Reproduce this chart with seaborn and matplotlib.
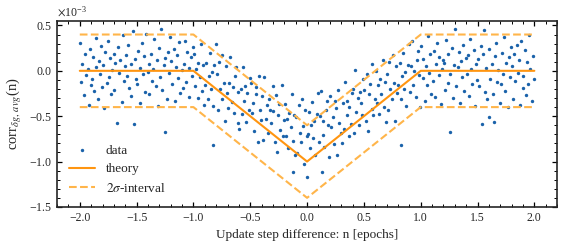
import numpy as np
import pandas as pd
import matplotlib
matplotlib.use("Agg")
import matplotlib.pyplot as plt
from matplotlib.ticker import MultipleLocator
import seaborn as sns

# Scatter data, corr values in units of 1e-3 (thinned out)
x_left = [-1.996, -1.985, -1.977, -1.966, -1.953, -1.944, -1.931, -1.922, -1.911, -1.903,
          -1.894, -1.886, -1.872, -1.861, -1.853, -1.842, -1.834, -1.821, -1.812, -1.804,
          -1.797, -1.783, -1.775, -1.764, -1.752, -1.741, -1.736, -1.723, -1.714, -1.702,
          -1.695, -1.687, -1.676, -1.662, -1.655, -1.643, -1.631, -1.624, -1.613, -1.605,
          -1.596, -1.584, -1.577, -1.565, -1.553, -1.546, -1.532, -1.525, -1.514, -1.506,
          -1.497, -1.485, -1.474, -1.466, -1.455, -1.443, -1.434, -1.422, -1.415, -1.403,
          -1.394, -1.387, -1.373, -1.366, -1.352, -1.344, -1.333, -1.325, -1.311, -1.304,
          -1.296, -1.285, -1.276, -1.263, -1.254, -1.246, -1.235, -1.224, -1.212, -1.206,
          -1.197, -1.188, -1.174, -1.163, -1.156, -1.145, -1.133, -1.126, -1.114, -1.102,
          -1.096, -1.083, -1.077, -1.064, -1.055, -1.042, -1.036, -1.022, -1.013, -1.004]
y_left = [0.31, -0.12, 0.08, -0.27, 0.19, -0.05, 0.02, -0.38, 0.24, -0.16,
          -0.09, 0.15, -0.22, 0.36, 0.04, -0.31, 0.11, -0.03, 0.27, -0.18,
          0.06, -0.41, 0.21, -0.13, 0.33, -0.07, 0.14, -0.25, 0.01, 0.18,
          -0.21, 0.09, -0.57, 0.26, -0.02, 0.12, -0.34, 0.39, -0.11, 0.05,
          0.17, -0.06, 0.29, -0.19, 0.07, -0.28, 0.44, -0.59, 0.13, -0.09,
          -0.14, 0.22, 0.03, -0.36, 0.31, -0.04, 0.16, -0.23, 0.41, -0.01,
          0.08, -0.26, 0.19, -0.11, 0.02, 0.35, -0.17, 0.12, -0.39, 0.25,
          -0.07, 0.46, -0.21, 0.06, -0.67, 0.14, -0.31, 0.21, -0.02, 0.37,
          0.11, -0.15, 0.24, -0.33, 0.04, 0.17, -0.08, 0.32, -0.24, 0.01,
          -0.19, 0.07, 0.33, -0.12, 0.21, -0.29, 0.03, 0.15, -0.06, 0.26]

x_mid = [-0.996, -0.984, -0.975, -0.963, -0.956, -0.944, -0.932, -0.925, -0.913, -0.905,
         -0.897, -0.886, -0.874, -0.866, -0.853, -0.845, -0.834, -0.826, -0.815, -0.803, -0.830,
         -0.795, -0.787, -0.776, -0.764, -0.752, -0.746, -0.733, -0.722, -0.716, -0.704,
         -0.696, -0.684, -0.677, -0.665, -0.654, -0.643, -0.635, -0.623, -0.612, -0.606,
         -0.597, -0.585, -0.573, -0.566, -0.555, -0.542, -0.534, -0.527, -0.513, -0.502,
         -0.494, -0.487, -0.475, -0.463, -0.452, -0.446, -0.435, -0.424, -0.412, -0.405,
         -0.396, -0.384, -0.376, -0.365, -0.353, -0.344, -0.336, -0.322, -0.314, -0.303,
         -0.297, -0.285, -0.274, -0.266, -0.254, -0.243, -0.235, -0.224, -0.213, -0.204,
         -0.196, -0.186, -0.175, -0.164, -0.155, -0.143, -0.132, -0.124, -0.117, -0.104, -0.120,
         -0.095, -0.086, -0.074, -0.065, -0.053, -0.045, -0.034, -0.023, -0.014, -0.004, 0.000,
         0.005, 0.014, 0.026, 0.035, 0.043, 0.056, 0.064, 0.073, 0.085, 0.096,
         0.103, 0.115, 0.124, 0.136, 0.144, 0.153, 0.165, 0.177, 0.186, 0.194, 0.130,
         0.206, 0.213, 0.225, 0.236, 0.244, 0.257, 0.263, 0.275, 0.284, 0.297,
         0.304, 0.316, 0.323, 0.335, 0.347, 0.354, 0.366, 0.373, 0.385, 0.393,
         0.405, 0.414, 0.426, 0.433, 0.445, 0.456, 0.464, 0.476, 0.487, 0.495,
         0.503, 0.516, 0.524, 0.533, 0.545, 0.554, 0.567, 0.575, 0.583, 0.596,
         0.604, 0.615, 0.623, 0.637, 0.645, 0.653, 0.666, 0.674, 0.685, 0.694,
         0.706, 0.713, 0.725, 0.734, 0.746, 0.755, 0.763, 0.777, 0.784, 0.795,
         0.804, 0.815, 0.826, 0.833, 0.845, 0.857, 0.864, 0.873, 0.886, 0.894, 0.830,
         0.903, 0.914, 0.925, 0.936, 0.943, 0.955, 0.966, 0.974, 0.985, 0.996]
y_mid = [0.18, -0.17, 0.02, -0.30, 0.09, -0.07, 0.30, -0.22, 0.06, -0.38,
         -0.16, 0.09, -0.31, -0.06, 0.20, -0.20, -0.01, -0.39, 0.06, 0.30, -0.82,
         -0.03, -0.43, 0.10, -0.20, -0.31, 0.17, -0.13, -0.55, 0.05, -0.24,
         -0.41, -0.13, 0.15, -0.34, -0.18, -0.47, -0.06, 0.04, -0.23, -0.58,
         -0.64, -0.20, -0.48, 0.04, -0.33, -0.17, -0.56, -0.24, -0.43, -0.08,
         -0.13, -0.47, -0.36, -0.66, -0.18, -0.26, -0.78, -0.06, -0.43, -0.54,
         -0.28, -0.76, -0.07, -0.53, -0.38, -0.68, -0.31, -0.43, -0.57, -0.17,
         -0.44, -0.78, -0.27, -0.89, -0.49, -0.37, -0.65, -0.16, -0.72, -0.54,
         -0.37, -0.72, -0.53, -0.85, -0.46, -0.62, -0.25, -0.77, -0.49, -0.93, -1.12,
         -0.51, -0.91, -0.38, -0.68, -0.79, -0.31, -0.61, -1.03, -0.43, -0.72, -1.17,
         -0.70, -0.45, -0.85, -0.60, -0.34, -0.74, -0.55, -0.93, -0.48, -0.24,
         -0.78, -0.50, -0.22, -0.71, -0.55, -0.84, -0.43, -0.33, -0.60, -0.95, -1.12,
         -0.28, -0.62, -0.51, -0.81, -0.33, -0.41, -0.93, -0.21, -0.58, -0.69,
         -0.80, -0.36, -0.64, -0.12, -0.49, -0.33, -0.72, -0.40, -0.59, -0.24,
         -0.20, -0.68, 0.01, -0.45, -0.30, -0.60, -0.23, -0.35, -0.49, -0.09,
         -0.21, -0.55, -0.04, -0.66, -0.26, -0.14, -0.42, 0.07, -0.49, -0.31,
         0.00, -0.35, -0.16, -0.48, -0.09, -0.25, 0.12, -0.40, -0.12, -0.56,
         -0.03, -0.43, 0.10, -0.20, -0.31, 0.17, -0.13, -0.55, 0.05, -0.24,
         -0.16, 0.09, -0.31, -0.06, 0.20, -0.20, -0.01, -0.39, 0.06, 0.30, -0.82,
         -0.23, 0.05, 0.33, -0.16, 0.00, -0.29, 0.12, 0.22, -0.05, -0.40]

x_right = [1.004, 1.016, 1.023, 1.035, 1.047, 1.054, 1.066, 1.073, 1.085, 1.094,
           1.105, 1.113, 1.126, 1.134, 1.145, 1.157, 1.163, 1.176, 1.184, 1.197,
           1.203, 1.215, 1.224, 1.236, 1.244, 1.256, 1.262, 1.275, 1.286, 1.294,
           1.304, 1.313, 1.325, 1.336, 1.342, 1.355, 1.367, 1.374, 1.383, 1.395,
           1.406, 1.414, 1.423, 1.435, 1.446, 1.453, 1.465, 1.477, 1.484, 1.493,
           1.504, 1.516, 1.527, 1.541, 1.548, 1.555, 1.563, 1.576, 1.585, 1.598,
           1.605, 1.614, 1.626, 1.633, 1.647, 1.652, 1.664, 1.675, 1.683, 1.696,
           1.703, 1.716, 1.724, 1.737, 1.745, 1.753, 1.766, 1.775, 1.784, 1.793,
           1.806, 1.813, 1.825, 1.834, 1.846, 1.854, 1.867, 1.873, 1.885, 1.896,
           1.904, 1.915, 1.923, 1.936, 1.944, 1.957, 1.965, 1.976, 1.984, 1.996]
y_right = [0.27, -0.08, 0.13, -0.33, 0.05, -0.16, 0.38, -0.02, 0.19, -0.25,
           -0.11, 0.22, -0.29, 0.08, 0.31, -0.05, 0.15, -0.37, 0.02, 0.12,
           0.09, -0.21, 0.34, -0.13, 0.18, -0.67, -0.03, 0.25, -0.30, 0.06,
           0.46, -0.17, 0.04, 0.21, -0.36, 0.11, -0.07, 0.29, -0.22, 0.14,
           -0.04, 0.17, -0.28, 0.35, 0.02, -0.14, 0.23, -0.39, 0.08, -0.10,
           0.13, -0.17, 0.27, -0.59, 0.19, 0.45, -0.23, 0.03, -0.31, -0.51,
           0.24, -0.09, 0.07, -0.26, -0.56, 0.16, 0.31, -0.12, 0.01, -0.35,
           -0.14, 0.20, -0.03, 0.37, -0.22, 0.09, -0.40, 0.15, -0.07, 0.26,
           0.05, -0.31, 0.18, -0.11, 0.28, -0.02, 0.12, -0.38, 0.33, -0.19,
           -0.06, 0.23, -0.27, 0.10, -0.15, 0.39, 0.02, -0.33, 0.16, -0.09]

# theory curve and 2 sigma band (breakpoints, units of 1e-3)
line_x = [-2.0, -1.0, 0.0, 1.0, 2.0]
theory_y = [0.0, 0.0, -1.0, 0.0, 0.0]
upper_y = [0.4, 0.4, -0.6, 0.4, 0.4]
lower_y = [-0.4, -0.4, -1.4, -0.4, -0.4]

scale = 1e-3

sns.set_theme(style="ticks")
plt.rcParams["font.family"] = ["Liberation Serif", "DejaVu Serif"]
plt.rcParams["mathtext.fontset"] = "stix"
plt.rcParams["font.size"] = 8.5
plt.rcParams["axes.linewidth"] = 1.2

data = pd.DataFrame({
    "n": x_left + x_mid + x_right,
    "corr": np.array(y_left + y_mid + y_right) * scale,
})

fig = plt.figure(figsize=(5.65, 2.49), dpi=100)
ax = fig.add_axes([0.101, 0.169, 0.885, 0.747])

sns.scatterplot(data=data, x="n", y="corr", ax=ax, color="#1a62aa", s=6,
                marker="o", linewidth=0, label="data")
sns.lineplot(x=line_x, y=np.array(theory_y) * scale, ax=ax, color="#ff9510",
             linewidth=1.5, label="theory")
sns.lineplot(x=line_x, y=np.array(upper_y) * scale, ax=ax, color="#ffb54a",
             linewidth=1.5, linestyle="--", label=r"$2\sigma$-interval")
sns.lineplot(x=line_x, y=np.array(lower_y) * scale, ax=ax, color="#ffb54a",
             linewidth=1.5, linestyle="--")

ax.set_xlim(-2.2, 2.2)
ax.set_ylim(-1.5e-3, 0.55e-3)
ax.xaxis.set_major_locator(MultipleLocator(0.5))
ax.xaxis.set_minor_locator(MultipleLocator(0.1))
ax.yaxis.set_major_locator(MultipleLocator(0.5e-3))
ax.yaxis.set_minor_locator(MultipleLocator(0.1e-3))
ax.ticklabel_format(axis="y", style="sci", scilimits=(-3, -3), useMathText=True)
ax.tick_params(which="both", direction="in", top=True, right=True,
               labelsize=8.5, color="black")
ax.tick_params(which="major", length=3.5, width=0.9)
ax.tick_params(which="minor", length=2, width=0.7)
ax.yaxis.get_offset_text().set_fontsize(8.5)

ax.set_xlabel("Update step difference: n [epochs]", fontsize=9.5)
ax.set_ylabel(r"corr$_{\delta g,\, avg}$(n)", fontsize=10.5)

ax.legend(loc="lower left", frameon=False, fontsize=9.5)

fig.savefig("out.png", dpi=100)
